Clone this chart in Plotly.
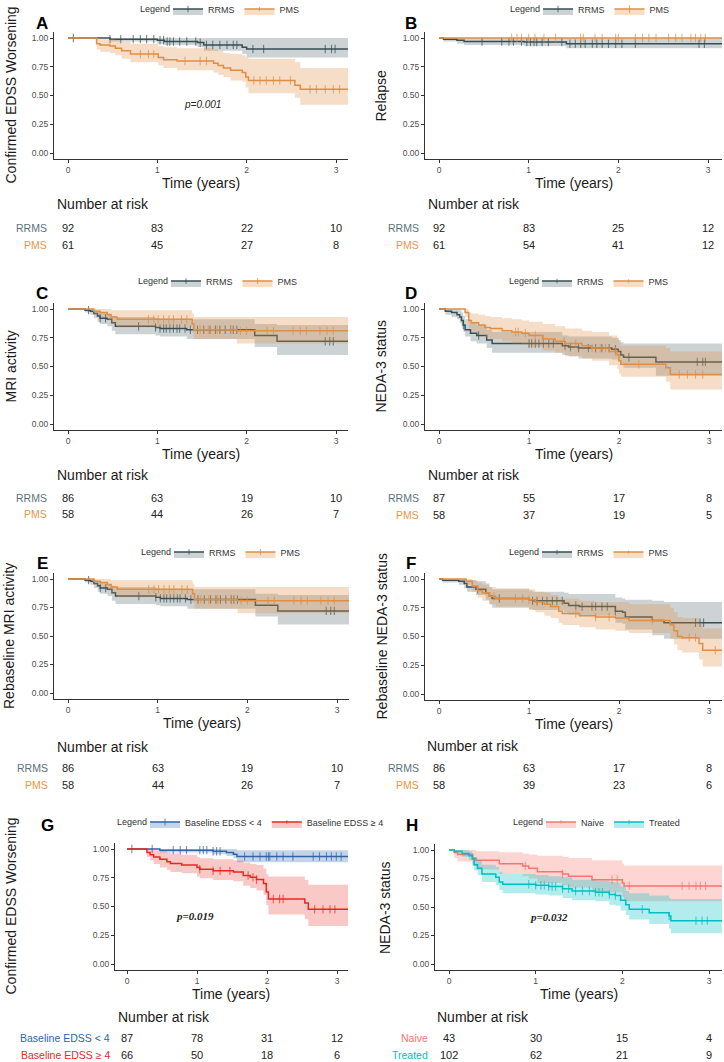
import plotly.graph_objects as go

W, H = 724, 1062
FONT = "Arial, Liberation Sans, sans-serif"

# ---------------- data ----------------
risk_times = [0, 1, 2, 3]

# A: confirmed EDSS worsening, RRMS vs PMS
a_rrms_t = [0, 0.47, 1.00, 1.08, 1.45, 1.52, 1.95, 2.00]
a_rrms_s = [1, 0.99, 0.98, 0.97, 0.96, 0.94, 0.92, 0.905]
a_rrms_lo = [1, 0.97, 0.95, 0.94, 0.92, 0.89, 0.86, 0.83]
a_rrms_hi = [1, 1, 1, 1, 1, 1, 1, 1]
a_rrms_c = [0.06, 0.47, 0.59, 0.73, 0.81, 0.88, 0.96, 1.03, 1.07, 1.11, 1.14, 1.18, 1.25, 1.33,
            1.43, 1.48, 1.55, 1.62, 1.70, 1.78, 1.85, 1.89, 2.07, 2.19, 2.88, 2.95, 2.99]
a_pms_t = [0, 0.32, 0.36, 0.47, 0.53, 0.60, 0.70, 1.01, 1.07, 1.22, 1.63, 1.68, 1.74, 1.82, 1.95, 1.99, 2.02, 2.54, 2.60]
a_pms_s = [1, 0.95, 0.94, 0.93, 0.91, 0.89, 0.86, 0.83, 0.81, 0.80, 0.78, 0.76, 0.74, 0.72, 0.70, 0.66, 0.63, 0.59, 0.555]
a_pms_lo = [1, 0.90, 0.88, 0.87, 0.85, 0.82, 0.79, 0.76, 0.74, 0.72, 0.70, 0.68, 0.66, 0.63, 0.62, 0.57, 0.52, 0.48, 0.42]
a_pms_hi = [1, 1.00, 0.99, 0.99, 0.98, 0.97, 0.95, 0.93, 0.92, 0.91, 0.90, 0.89, 0.87, 0.86, 0.85, 0.83, 0.82, 0.79, 0.74]
a_pms_c = [0.81, 0.90, 0.96, 1.31, 1.48, 1.55, 2.08, 2.15, 2.22, 2.30, 2.37, 2.49, 2.71, 2.78, 2.88, 2.97, 3.04]
a_risk_rrms = [92, 83, 22, 10]
a_risk_pms = [61, 45, 27, 8]

# B: relapse
b_rrms_t = [0, 0.05, 0.20, 0.28, 0.95, 1.42]
b_rrms_s = [1, 0.99, 0.98, 0.97, 0.965, 0.95]
b_rrms_lo = [1, 0.97, 0.95, 0.94, 0.93, 0.91]
b_rrms_hi = [1, 1, 1, 1, 1, 1]
b_rrms_c = [0.48, 0.70, 0.78, 0.83, 0.92, 0.98, 1.02, 1.06, 1.09, 1.15, 1.22, 1.37, 1.46, 1.52, 1.58,
            1.63, 1.71, 1.76, 1.82, 1.89, 1.97, 2.04, 2.19, 2.90, 2.96]
b_pms_t = [0]
b_pms_s = [1]
b_pms_lo = [1]
b_pms_hi = [1]
b_pms_c = [0.81, 0.87, 0.92, 1.00, 1.07, 1.17, 1.30, 1.58, 1.61, 1.74, 1.82, 1.97, 2.00, 2.19, 2.27,
           2.34, 2.42, 2.56, 2.64, 2.71, 2.81, 2.86, 2.92, 2.97]
b_risk_rrms = [92, 83, 25, 12]
b_risk_pms = [61, 54, 41, 12]

# C and E: MRI activity / rebaseline MRI activity
mri_rrms_t = [0, 0.19, 0.25, 0.29, 0.33, 0.36, 0.44, 0.49, 0.53, 0.98, 1.03, 1.33, 2.09, 2.34]
mri_rrms_s = [1, 0.99, 0.98, 0.96, 0.94, 0.92, 0.91, 0.88, 0.85, 0.84, 0.83, 0.82, 0.77, 0.72]
mri_rrms_lo = [1, 0.97, 0.95, 0.92, 0.89, 0.87, 0.85, 0.81, 0.78, 0.77, 0.76, 0.74, 0.67, 0.60]
mri_rrms_hi = [1, 1, 1, 0.99, 0.98, 0.97, 0.96, 0.94, 0.93, 0.92, 0.915, 0.91, 0.87, 0.86]
mri_rrms_c = [0.23, 0.36, 0.42, 0.79, 0.98, 1.03, 1.07, 1.10, 1.14, 1.18, 1.22, 1.25, 1.31, 1.37, 1.45,
              1.52, 1.59, 1.65, 1.70, 1.76, 1.82, 1.85, 1.89, 2.88, 2.93, 2.97]
mri_pms_t = [0, 0.29, 0.36, 0.44, 0.48, 0.55, 1.39, 1.41, 1.89]
mri_pms_s = [1, 0.98, 0.97, 0.95, 0.93, 0.91, 0.87, 0.82, 0.81]
mri_pms_lo = [1, 0.95, 0.93, 0.90, 0.87, 0.84, 0.79, 0.74, 0.70]
mri_pms_hi = [1, 1, 1, 1, 0.99, 0.99, 0.96, 0.93, 0.93]
mri_pms_c = [0.90, 0.96, 1.01, 1.07, 1.13, 1.18, 1.27, 1.33, 1.48, 1.57, 1.67, 1.82, 1.93, 2.00, 2.23,
             2.30, 2.52, 2.60, 2.67, 2.82, 2.90, 2.97]
c_risk_rrms = [86, 63, 19, 10]
c_risk_pms = [58, 44, 26, 7]
e_risk_rrms = [86, 63, 19, 10]
e_risk_pms = [58, 44, 26, 7]

# D: NEDA-3 status
d_rrms_t = [0, 0.07, 0.14, 0.20, 0.23, 0.25, 0.27, 0.29, 0.35, 0.42, 0.53, 0.59, 1.37, 1.44, 1.55, 1.92,
            1.99, 2.02, 2.05, 2.41]
d_rrms_s = [1, 0.98, 0.97, 0.95, 0.93, 0.90, 0.86, 0.82, 0.79, 0.77, 0.73, 0.70, 0.68, 0.67, 0.66, 0.65,
            0.63, 0.60, 0.58, 0.54]
d_rrms_lo = [1, 0.95, 0.93, 0.91, 0.88, 0.85, 0.80, 0.76, 0.72, 0.70, 0.66, 0.62, 0.60, 0.59, 0.57, 0.56,
             0.54, 0.51, 0.49, 0.42]
d_rrms_hi = [1, 1, 1, 1, 0.99, 0.97, 0.94, 0.91, 0.88, 0.86, 0.82, 0.80, 0.77, 0.76, 0.76, 0.75, 0.73,
             0.71, 0.70, 0.70]
d_rrms_c = [0.27, 0.44, 1.00, 1.03, 1.07, 1.11, 1.16, 1.22, 1.27, 1.40, 1.46, 1.55, 1.66, 1.74, 1.81,
            1.89, 1.96, 2.11, 2.87, 2.93, 2.96]
d_pms_t = [0, 0.29, 0.33, 0.36, 0.44, 0.51, 0.57, 0.70, 0.81, 0.92, 1.00, 1.15, 1.29, 1.40, 1.59, 1.70,
           1.89, 1.98, 2.00, 2.02, 2.52, 2.57]
d_pms_s = [1, 0.97, 0.90, 0.88, 0.86, 0.84, 0.83, 0.81, 0.80, 0.79, 0.77, 0.74, 0.72, 0.70, 0.68, 0.66,
           0.63, 0.60, 0.55, 0.52, 0.49, 0.43]
d_pms_lo = [1, 0.93, 0.83, 0.80, 0.78, 0.75, 0.74, 0.72, 0.70, 0.69, 0.67, 0.64, 0.62, 0.59, 0.57, 0.55,
            0.51, 0.48, 0.44, 0.41, 0.37, 0.30]
d_pms_hi = [1, 1, 0.97, 0.96, 0.95, 0.94, 0.93, 0.92, 0.91, 0.90, 0.89, 0.87, 0.85, 0.83, 0.81, 0.80,
            0.77, 0.75, 0.71, 0.68, 0.66, 0.63]
d_pms_c = [0.85, 0.88, 0.96, 1.07, 1.16, 1.39, 1.52, 1.70, 1.79, 1.85, 1.96, 2.22, 2.67, 2.76, 2.85, 2.93]
d_risk_rrms = [87, 55, 17, 8]
d_risk_pms = [58, 37, 19, 5]

# F: rebaseline NEDA-3 status
f_rrms_t = [0, 0.04, 0.22, 0.28, 0.31, 0.41, 0.52, 0.56, 0.59, 1.00, 1.04, 1.39, 1.44, 1.56, 1.96, 2.04,
            2.07, 2.37, 2.50]
f_rrms_s = [1, 0.99, 0.98, 0.96, 0.93, 0.91, 0.88, 0.85, 0.83, 0.82, 0.81, 0.79, 0.77, 0.76, 0.72, 0.71,
            0.67, 0.64, 0.62]
f_rrms_lo = [1, 0.97, 0.95, 0.92, 0.89, 0.86, 0.82, 0.78, 0.75, 0.74, 0.73, 0.71, 0.69, 0.68, 0.62, 0.61,
             0.56, 0.51, 0.48]
f_rrms_hi = [1, 1, 1, 1, 0.99, 0.98, 0.96, 0.93, 0.91, 0.90, 0.89, 0.88, 0.87, 0.87, 0.84, 0.83, 0.82,
             0.81, 0.80]
f_rrms_c = [0.43, 0.67, 1.04, 1.09, 1.15, 1.20, 1.26, 1.31, 1.37, 1.52, 1.59, 1.70, 1.74, 1.81, 1.87,
            1.96, 2.85, 2.90, 2.94]
f_pms_t = [0, 0.30, 0.37, 0.43, 0.48, 0.56, 0.63, 1.00, 1.07, 1.17, 1.24, 1.33, 1.37, 1.56, 1.74, 1.96,
           2.11, 2.57, 2.61, 2.65, 2.70, 2.89, 2.93]
f_pms_s = [1, 0.98, 0.94, 0.90, 0.88, 0.85, 0.83, 0.82, 0.80, 0.78, 0.76, 0.72, 0.70, 0.68, 0.67, 0.66,
           0.64, 0.60, 0.55, 0.50, 0.49, 0.44, 0.38]
f_pms_lo = [1, 0.95, 0.89, 0.84, 0.81, 0.78, 0.76, 0.73, 0.71, 0.68, 0.66, 0.62, 0.60, 0.58, 0.56, 0.55,
            0.53, 0.48, 0.43, 0.38, 0.36, 0.30, 0.24]
f_pms_hi = [1, 1, 0.99, 0.97, 0.95, 0.93, 0.92, 0.91, 0.89, 0.88, 0.86, 0.84, 0.83, 0.81, 0.80, 0.80,
            0.78, 0.75, 0.71, 0.67, 0.66, 0.62, 0.57]
f_pms_c = [0.61, 0.85, 0.93, 1.00, 1.09, 1.52, 1.74, 1.89, 2.37, 2.78, 2.85, 3.07]
f_risk_rrms = [86, 63, 17, 8]
f_risk_pms = [58, 39, 23, 6]

# G: confirmed EDSS worsening by baseline EDSS
g_lt4_t = [0, 0.47, 1.23, 1.42, 1.52, 1.57]
g_lt4_s = [1, 0.99, 0.98, 0.97, 0.955, 0.935]
g_lt4_lo = [1, 0.97, 0.955, 0.94, 0.92, 0.885]
g_lt4_hi = [1, 1, 1, 1, 1, 0.99]
g_lt4_c = [0.07, 0.36, 0.66, 0.76, 0.85, 1.04, 1.09, 1.14, 1.23, 1.28, 1.33, 1.68, 1.80, 1.90, 1.99,
           2.02, 2.04, 2.14, 2.23, 2.37, 2.66, 2.75, 2.85, 2.92, 2.99, 3.06]
g_ge4_t = [0, 0.285, 0.33, 0.38, 0.47, 0.57, 0.62, 0.78, 1.00, 1.04, 1.23, 1.52, 1.66, 1.76, 1.85, 1.95,
           1.99, 2.02, 2.54, 2.59]
g_ge4_s = [1, 0.97, 0.95, 0.93, 0.91, 0.89, 0.875, 0.86, 0.84, 0.825, 0.81, 0.80, 0.77, 0.755, 0.735,
           0.70, 0.625, 0.565, 0.53, 0.475]
g_ge4_lo = [1, 0.93, 0.90, 0.87, 0.84, 0.82, 0.80, 0.79, 0.76, 0.745, 0.73, 0.72, 0.68, 0.66, 0.64, 0.60,
            0.51, 0.43, 0.39, 0.33]
g_ge4_hi = [1, 1, 1, 0.99, 0.98, 0.97, 0.96, 0.95, 0.93, 0.92, 0.91, 0.90, 0.88, 0.87, 0.86, 0.83, 0.78,
            0.76, 0.73, 0.69]
g_ge4_c = [1.04, 1.23, 1.33, 1.47, 1.73, 1.80, 1.85, 2.09, 2.18, 2.23, 2.68, 2.80, 2.90, 2.97]
g_risk_lt4 = [87, 78, 31, 12]
g_risk_ge4 = [66, 50, 18, 6]

# H: NEDA-3 status, naive vs treated
h_naive_t = [0, 0.06, 0.10, 0.27, 0.31, 0.58, 0.85, 0.92, 1.02, 1.31, 1.38, 1.65, 2.00, 2.02]
h_naive_s = [1, 0.98, 0.96, 0.93, 0.91, 0.88, 0.86, 0.84, 0.81, 0.79, 0.77, 0.74, 0.71, 0.685]
h_naive_lo = [1, 0.93, 0.90, 0.86, 0.83, 0.79, 0.77, 0.75, 0.71, 0.69, 0.67, 0.63, 0.59, 0.55]
h_naive_hi = [1, 1, 1, 1, 0.99, 0.98, 0.97, 0.96, 0.95, 0.94, 0.93, 0.91, 0.88, 0.865]
h_naive_c = [0.88, 1.31, 1.88, 1.94, 2.08, 2.69, 2.77, 2.85, 2.90, 2.96]
h_treat_t = [0, 0.06, 0.15, 0.23, 0.27, 0.29, 0.33, 0.38, 0.54, 0.58, 0.62, 1.00, 1.15, 1.31, 1.42, 1.69,
             1.85, 1.92, 1.98, 2.04, 2.08, 2.31, 2.54, 2.56]
h_treat_s = [1, 0.99, 0.97, 0.95, 0.92, 0.87, 0.84, 0.79, 0.76, 0.72, 0.70, 0.69, 0.68, 0.66, 0.64, 0.63,
             0.61, 0.60, 0.56, 0.52, 0.48, 0.45, 0.42, 0.38]
h_treat_lo = [1, 0.97, 0.94, 0.91, 0.87, 0.82, 0.78, 0.72, 0.69, 0.65, 0.62, 0.61, 0.60, 0.58, 0.56, 0.55,
              0.52, 0.51, 0.47, 0.43, 0.39, 0.35, 0.31, 0.27]
h_treat_hi = [1, 1, 1, 0.99, 0.97, 0.93, 0.91, 0.87, 0.85, 0.81, 0.79, 0.78, 0.77, 0.76, 0.74, 0.73, 0.72,
              0.71, 0.68, 0.64, 0.62, 0.60, 0.58, 0.57]
h_treat_c = [0.92, 1.00, 1.06, 1.10, 1.15, 1.19, 1.23, 1.31, 1.38, 1.46, 1.54, 1.62, 1.69, 1.73, 1.77,
             1.85, 1.92, 2.23, 2.54, 2.85, 2.92, 2.98]
h_risk_naive = [43, 30, 15, 4]
h_risk_treat = [102, 62, 21, 9]

T_END = 3.25

# ---------------- styles ----------------
C_RRMS, B_RRMS, L_RRMS = "#374E55", "rgba(55,78,85,0.25)", "#5A727C"
C_PMS, B_PMS, L_PMS = "#DF8F44", "rgba(223,143,68,0.3)", "#E8964A"
C_LT4, B_LT4 = "#2F63AA", "rgba(47,99,170,0.28)"
C_GE4, B_GE4 = "#E8281F", "rgba(232,40,31,0.25)"
C_NAI, B_NAI = "#F8766D", "rgba(248,118,109,0.3)"
C_TRE, B_TRE = "#00BFC4", "rgba(0,191,196,0.3)"

rrms = lambda t, s, lo, hi, c: dict(t=t, s=s, lo=lo, hi=hi, c=c, color=C_RRMS, band=B_RRMS, lab=L_RRMS, name="RRMS")
pms = lambda t, s, lo, hi, c: dict(t=t, s=s, lo=lo, hi=hi, c=c, color=C_PMS, band=B_PMS, lab=L_PMS, name="PMS")

# leg = (centre of the word "Legend", left edge of the legend items, y)
panels = [
    dict(letter="A", box=(54, 348, 68, 336, 38, 153), let=(42, 23), ytitle="Confirmed EDSS Worsening", ytx=10,
         leg=(155, 168, 9), nar=(55, 204), rows=(228, 245), labr=49,
         groups=[rrms(a_rrms_t, a_rrms_s, a_rrms_lo, a_rrms_hi, a_rrms_c),
                 pms(a_pms_t, a_pms_s, a_pms_lo, a_pms_hi, a_pms_c)],
         risk=[a_risk_rrms, a_risk_pms], p=("p=0.001", 1.5, 0.42, "sans")),
    dict(letter="B", box=(425, 722, 439, 708, 38, 153), let=(411, 23), ytitle="Relapse", ytx=380,
         leg=(525, 538, 9), nar=(426, 204), rows=(228, 245), labr=421,
         groups=[rrms(b_rrms_t, b_rrms_s, b_rrms_lo, b_rrms_hi, b_rrms_c),
                 pms(b_pms_t, b_pms_s, b_pms_lo, b_pms_hi, b_pms_c)],
         risk=[b_risk_rrms, b_risk_pms], p=None),
    dict(letter="C", box=(54, 348, 68, 336, 309, 424), let=(42, 293), ytitle="MRI activity", ytx=10,
         leg=(153, 166, 281), nar=(55, 475), rows=(498, 514), labr=49,
         groups=[rrms(mri_rrms_t, mri_rrms_s, mri_rrms_lo, mri_rrms_hi, mri_rrms_c),
                 pms(mri_pms_t, mri_pms_s, mri_pms_lo, mri_pms_hi, mri_pms_c)],
         risk=[c_risk_rrms, c_risk_pms], p=None),
    dict(letter="D", box=(425, 722, 439, 709, 309, 424), let=(411, 293), ytitle="NEDA-3 status", ytx=380,
         leg=(524, 537, 281), nar=(426, 475), rows=(498, 515), labr=421,
         groups=[rrms(d_rrms_t, d_rrms_s, d_rrms_lo, d_rrms_hi, d_rrms_c),
                 pms(d_pms_t, d_pms_s, d_pms_lo, d_pms_hi, d_pms_c)],
         risk=[d_risk_rrms, d_risk_pms], p=None),
    dict(letter="E", box=(54, 349, 68, 337, 579, 693), let=(42, 563), ytitle="Rebaseline MRI activity", ytx=9,
         leg=(156, 169, 552), nar=(55, 747), rows=(768, 785), labr=50,
         groups=[rrms(mri_rrms_t, mri_rrms_s, mri_rrms_lo, mri_rrms_hi, mri_rrms_c),
                 pms(mri_pms_t, mri_pms_s, mri_pms_lo, mri_pms_hi, mri_pms_c)],
         risk=[e_risk_rrms, e_risk_pms], p=None),
    dict(letter="F", box=(425, 722, 439, 709, 579, 694), let=(411, 563), ytitle="Rebaseline NEDA-3 status", ytx=381,
         leg=(524, 537, 552), nar=(425, 746), rows=(768, 785), labr=421,
         groups=[rrms(f_rrms_t, f_rrms_s, f_rrms_lo, f_rrms_hi, f_rrms_c),
                 pms(f_pms_t, f_pms_s, f_pms_lo, f_pms_hi, f_pms_c)],
         risk=[f_risk_rrms, f_risk_pms], p=None),
    dict(letter="G", box=(115, 348, 127, 337, 849, 964), let=(47, 825), ytitle="Confirmed EDSS Worsening", ytx=10,
         leg=(132, 145, 822), nar=(116, 1017), rows=(1038, 1055), labr=112,
         groups=[dict(t=g_lt4_t, s=g_lt4_s, lo=g_lt4_lo, hi=g_lt4_hi, c=g_lt4_c, color=C_LT4, band=B_LT4,
                      lab=C_LT4, name="Baseline EDSS < 4"),
                 dict(t=g_ge4_t, s=g_ge4_s, lo=g_ge4_lo, hi=g_ge4_hi, c=g_ge4_c, color=C_GE4, band=B_GE4,
                      lab=C_GE4, name="Baseline EDSS ≥ 4")],
         risk=[g_risk_lt4, g_risk_ge4], p=("p=0.019", 0.97, 0.42, "serif")),
    dict(letter="H", box=(435, 722, 449, 709, 850, 964), let=(412, 825), ytitle="NEDA-3 status", ytx=385,
         leg=(528, 541, 822), nar=(435, 1017), rows=(1038, 1055), labr=430,
         groups=[dict(t=h_naive_t, s=h_naive_s, lo=h_naive_lo, hi=h_naive_hi, c=h_naive_c, color=C_NAI,
                      band=B_NAI, lab=C_NAI, name="Naive"),
                 dict(t=h_treat_t, s=h_treat_s, lo=h_treat_lo, hi=h_treat_hi, c=h_treat_c, color=C_TRE,
                      band=B_TRE, lab=C_TRE, name="Treated")],
         risk=[h_risk_naive, h_risk_treat], p=("p=0.032", 1.15, 0.41, "serif")),
]


def step_at(times, vals, t):
    v = vals[0]
    for ti, vi in zip(times, vals):
        if ti <= t:
            v = vi
    return v


def note(text, x, y, size, color="#1a1a1a", xanchor="center", **kw):
    d = dict(text=text, x=x, y=y, xref=kw.pop("xref", "paper"), yref=kw.pop("yref", "paper"),
             xanchor=xanchor, yanchor="middle", showarrow=False,
             font=dict(size=size, family=kw.pop("family", FONT), color=color))
    d.update(kw)
    return d


fig = go.Figure()
annotations = []
layout = {}

for i, p in enumerate(panels, start=1):
    xa, ya = f"x{i}" if i > 1 else "x", f"y{i}" if i > 1 else "y"
    leg = f"legend{i}" if i > 1 else "legend"
    left, right, x0, x3, y1, y0 = p["box"]
    ppy = (x3 - x0) / 3.0
    ppu = y0 - y1
    top, bot = y1 - 0.05 * ppu, y0 + 0.05 * ppu

    for g in p["groups"]:
        tt = list(g["t"]) + [T_END]
        fig.add_trace(go.Scatter(x=tt, y=list(g["lo"]) + [g["lo"][-1]], mode="lines",
                                 line=dict(width=0, shape="hv"), xaxis=xa, yaxis=ya,
                                 showlegend=False, hoverinfo="skip"))
        pts = sorted(set(list(g["t"]) + list(g["c"]) + [T_END]))
        cset = set(g["c"])
        fig.add_trace(go.Scatter(
            x=pts, y=[step_at(g["t"], g["s"], t) for t in pts], mode="lines+markers", name=g["name"],
            line=dict(color=g["color"], width=1.5, shape="hv"),
            marker=dict(symbol="line-ns-open", size=[6 if t in cset else 0 for t in pts],
                        color=g["color"], line=dict(color=g["color"], width=1.1)),
            fill="tonexty", fillcolor=g["band"], xaxis=xa, yaxis=ya, legend=leg, hoverinfo="skip"))
        fig.add_trace(go.Scatter(x=tt, y=list(g["hi"]) + [g["hi"][-1]], mode="lines",
                                 line=dict(width=0, shape="hv"), fill="tonexty", fillcolor=g["band"],
                                 xaxis=xa, yaxis=ya, showlegend=False, hoverinfo="skip"))

    axis_common = dict(showline=True, linecolor="#333333", linewidth=1.1, ticks="outside", ticklen=3,
                       tickcolor="#333333", tickfont=dict(size=8.5, color="#4D4D4D", family=FONT),
                       showgrid=False, zeroline=False)
    layout["xaxis" if i == 1 else f"xaxis{i}"] = dict(
        axis_common, domain=[left / W, right / W], anchor=ya,
        range=[(left - x0) / ppy, (right - x0) / ppy], tickvals=[0, 1, 2, 3])
    layout["yaxis" if i == 1 else f"yaxis{i}"] = dict(
        axis_common, domain=[1 - bot / H, 1 - top / H], anchor=xa,
        range=[-0.05, 1.05], tickvals=[0, 0.25, 0.5, 0.75, 1], tickformat=".2f")

    lt, lx, ly = p["leg"]
    layout[leg] = dict(orientation="h", x=lx / W, y=1 - ly / H, xanchor="left", yanchor="middle",
                       font=dict(size=9, family=FONT, color="#333"), bgcolor="rgba(0,0,0,0)",
                       itemwidth=30, tracegroupgap=0, traceorder="normal", valign="middle")
    annotations.append(note("Legend", lt / W, 1 - ly / H, 9, "#333"))

    annotations.append(note(f"<b>{p['letter']}</b>", p["let"][0] / W, 1 - p["let"][1] / H, 17, "black"))
    annotations.append(note(p["ytitle"], p["ytx"] / W, 1 - (top + bot) / 2 / H, 14, textangle=-90))
    annotations.append(note("Time (years)", (left + right) / 2 / W, 1 - (y0 + 30) / H, 14))
    annotations.append(note("Number at risk", p["nar"][0] / W, 1 - p["nar"][1] / H, 14, xanchor="left"))
    for g, counts, ry in zip(p["groups"], p["risk"], p["rows"]):
        annotations.append(note(g["name"], p["labr"] / W, 1 - ry / H, 10.5, g["lab"], xanchor="right"))
        for t, n in zip(risk_times, counts):
            annotations.append(note(str(n), t, 1 - ry / H, 11, "#222", xref=xa))
    if p["p"]:
        txt, px_, py_, kind = p["p"]
        if kind == "sans":
            annotations.append(note(f"<i>{txt}</i>", px_, py_, 10, "#222", xref=xa, yref=ya))
        else:
            annotations.append(note(f"<b><i>{txt}</i></b>", px_, py_, 11, "#222", xref=xa, yref=ya,
                                    family="Liberation Serif, Times New Roman, serif"))

fig.update_layout(width=W, height=H, margin=dict(l=0, r=0, t=0, b=0, autoexpand=False),
                  plot_bgcolor="white", paper_bgcolor="white", annotations=annotations,
                  font=dict(family=FONT), **layout)
fig.write_html("out.html", config={"displayModeBar": False},
               post_script="document.body.style.margin='0px';")
